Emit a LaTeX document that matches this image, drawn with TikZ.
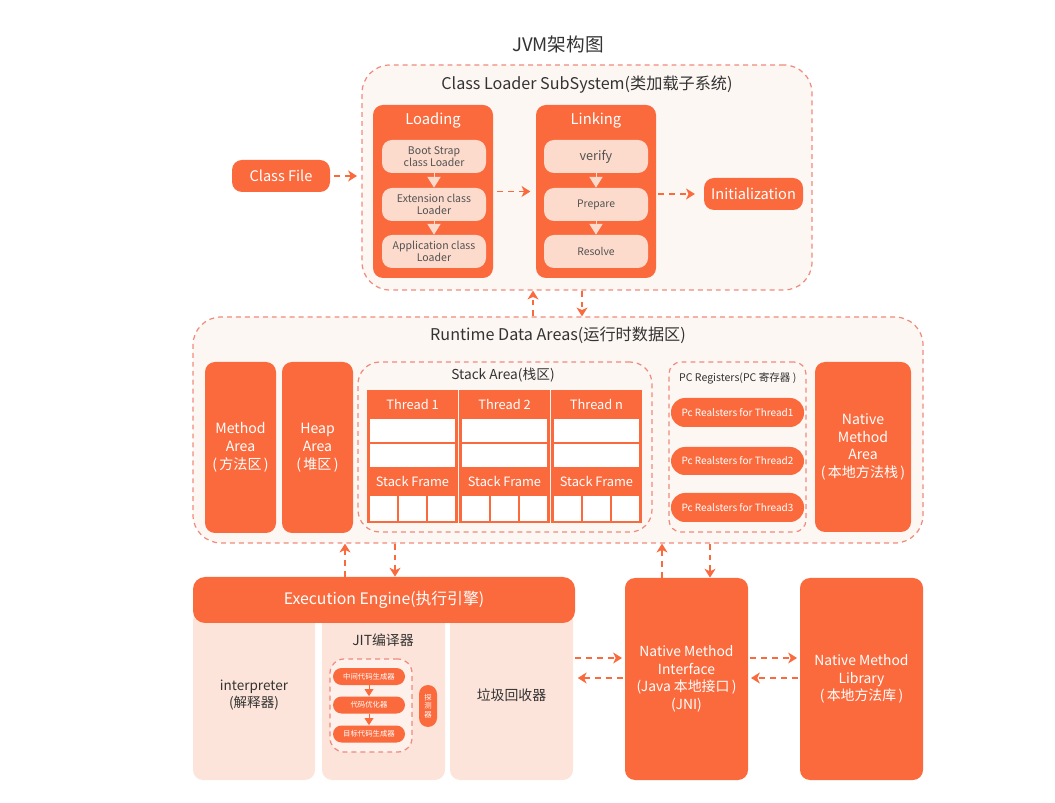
\documentclass[tikz,border=0pt]{standalone}
\usepackage{fontspec}
\setmainfont{Noto Sans CJK SC}
\usetikzlibrary{arrows.meta}

\definecolor{jvmorange}{HTML}{FB6A3D}
\definecolor{jvmpeach}{HTML}{FDDBCC}
\definecolor{jvmpanel}{HTML}{FDE4DA}
\definecolor{jvmbg}{HTML}{FDF7F4}
\definecolor{jvmdash}{HTML}{EF8A7C}
\definecolor{jvmtext}{HTML}{333333}

\newdimen\pxu \pxu=0.02cm
\newcommand{\jfs}[2]{\fontsize{#1pt}{#2pt}\selectfont}

\begin{document}
\begin{tikzpicture}[x=0.02cm,y=-0.02cm,
    area/.style={draw=jvmdash,line width=0.7pt,dash pattern=on 2.8pt off 2.3pt,fill=jvmbg,rounded corners=28\pxu,inner sep=0pt},
    block/.style={fill=jvmorange,rounded corners=10\pxu,text=white,inner sep=0pt,align=center},
    sub/.style={fill=jvmpeach,rounded corners=10\pxu,text=jvmtext!85,inner sep=0pt,align=center},
    pill/.style={fill=jvmorange,rounded corners=14\pxu,text=white,inner sep=0pt,align=center},
    panel/.style={fill=jvmpanel,rounded corners=10\pxu,text=jvmtext,inner sep=0pt,align=center},
    cell/.style={draw=jvmorange,line width=1.4pt,fill=white,inner sep=0pt},
    cellhead/.style={draw=jvmorange,line width=1.4pt,fill=jvmorange,text=white,inner sep=0pt,font=\jfs{7.3}{8}},
    head/.style={text=jvmtext,font=\jfs{9.2}{10}},
    flow/.style={jvmorange,line width=0.85pt,dash pattern=on 3.4pt off 2.8pt,-{Stealth[length=5pt,width=6.2pt,inset=1.4pt]}},
    chev/.style={jvmpeach,line width=0.5pt,-{Triangle[length=6.2pt,width=7.6pt]}},
    jitchev/.style={jvmorange,line width=0.5pt,-{Triangle[length=4pt,width=5pt]}}]

  \useasboundingbox (0,0) rectangle (1055,803);

  \path (558,44) node[text=jvmtext,font=\jfs{10.6}{12}](title){JVM架构图};

  % class loader subsystem
  \path (587,177.5) node[area,minimum width=450\pxu,minimum height=225\pxu](cls){};
  \path (587,85) node[head](cls_title){Class Loader SubSystem(类加载子系统)};
  \path (281,176) node[block,minimum width=98\pxu,minimum height=32\pxu,font=\jfs{8.3}{9}](classfile){Class File};

  \path (433,191.5) node[block,minimum width=120\pxu,minimum height=173\pxu](loading){};
  \path (433,120) node[text=white,font=\jfs{8.4}{9}](loading_title){Loading};
  \path (434,156.5) node[sub,minimum width=104\pxu,minimum height=33\pxu,font=\jfs{6}{7.2}](boot){Boot Strap\\class Loader};
  \path (434,204.5) node[sub,minimum width=104\pxu,minimum height=33\pxu,font=\jfs{6}{7.2}](ext){Extension class\\Loader};
  \path (434,251.5) node[sub,minimum width=104\pxu,minimum height=33\pxu,font=\jfs{6}{7.2}](app){Application class\\Loader};

  \path (596,191.5) node[block,minimum width=120\pxu,minimum height=173\pxu](linking){};
  \path (596,120) node[text=white,font=\jfs{8.4}{9}](linking_title){Linking};
  \path (596,156.5) node[sub,minimum width=104\pxu,minimum height=33\pxu,font=\jfs{7.2}{8}](verify){verify};
  \path (596,204.5) node[sub,minimum width=104\pxu,minimum height=33\pxu,font=\jfs{5.9}{7}](prepare){Prepare};
  \path (596,251.5) node[sub,minimum width=104\pxu,minimum height=33\pxu,font=\jfs{5.9}{7}](resolve){Resolve};

  \path (753.5,194) node[block,minimum width=99\pxu,minimum height=32\pxu,font=\jfs{8.3}{9}](init){Initialization};

  \draw[chev] (boot) -- (ext);
  \draw[chev] (ext) -- (app);
  \draw[chev] (verify) -- (prepare);
  \draw[chev] (prepare) -- (resolve);

  \draw[flow,shorten <=2pt,shorten >=2.5pt] (classfile) -- (classfile -| cls.west);
  \draw[flow,shorten <=2pt,shorten >=3pt] (loading) -- (linking);
  \draw[flow,shorten <=1pt,shorten >=5pt] (linking.east |- init) -- (init);

  % runtime data areas
  \path (558,430) node[area,minimum width=730\pxu,minimum height=226\pxu](rda){};
  \path (558,335) node[head](rda_title){Runtime Data Areas(运行时数据区)};

  \path (240.5,447.5) node[block,minimum width=71\pxu,minimum height=171\pxu,font=\jfs{8}{10.2}](method){Method\\Area\\(\,方法区\,)};
  \path (317.5,447.5) node[block,minimum width=71\pxu,minimum height=171\pxu,font=\jfs{8}{10.2}](heap){Heap\\Area\\(\,堆区\,)};

  \path (505,447) node[area,rounded corners=22\pxu,minimum width=294\pxu,minimum height=170\pxu](stack){};
  \path (503,375) node[text=jvmtext,font=\jfs{7.8}{9}](stack_title){Stack Area(栈区)};
  \foreach \cx/\lab [count=\i] in {412.5/Thread 1,504.5/Thread 2,596.5/Thread n}{
    \path (\cx,404.5) node[cellhead,minimum width=88\pxu,minimum height=27\pxu](thread\i){\lab};
    \path (\cx,430.5) node[cell,minimum width=88\pxu,minimum height=25\pxu](slota\i){};
    \path (\cx,455.5) node[cell,minimum width=88\pxu,minimum height=25\pxu](slotb\i){};
    \path (\cx,481.5) node[cellhead,minimum width=88\pxu,minimum height=27\pxu](frame\i){Stack Frame};
    \foreach \k/\kn in {-1/a,0/b,1/c}
      \path (\cx+\k*29.33,508.5) node[cell,minimum width=29.33\pxu,minimum height=27\pxu](var\i\kn){};
  }

  \path (737.5,447) node[area,rounded corners=12\pxu,minimum width=137\pxu,minimum height=170\pxu](pcreg){};
  \path (673,378) node[anchor=west,text=jvmtext,font=\jfs{6}{7}](pc_title){PC Registers(PC 寄存器 )};
  \path (737.5,412.5) node[pill,minimum width=133\pxu,minimum height=29\pxu,font=\jfs{5.7}{6}](pc1){Pc Realsters for Thread1};
  \path (737.5,461) node[pill,minimum width=133\pxu,minimum height=28\pxu,font=\jfs{5.7}{6}](pc2){Pc Realsters for Thread2};
  \path (737.5,507.5) node[pill,minimum width=133\pxu,minimum height=29\pxu,font=\jfs{5.7}{6}](pc3){Pc Realsters for Thread3};

  \path (863,447) node[block,minimum width=96\pxu,minimum height=170\pxu,font=\jfs{8}{9.9}](nma){Native\\Method\\Area\\(\,本地方法栈\,)};

  % execution engine
  \path (254,695) node[panel,minimum width=122\pxu,minimum height=170\pxu,font=\jfs{7.7}{9.5}](interp){interpreter\\(解释器)};
  \path (383.5,695) node[panel,minimum width=123\pxu,minimum height=170\pxu](jit){};
  \path (511.5,695) node[panel,minimum width=123\pxu,minimum height=170\pxu,font=\jfs{7.9}{9}](gc){垃圾回收器};
  \path (384,600) node[block,rounded corners=12\pxu,minimum width=382\pxu,minimum height=46\pxu,font=\jfs{9}{10}](engine){Execution Engine(执行引擎)};

  \path (383,640) node[text=jvmtext,font=\jfs{7.9}{9}](jit_title){JIT编译器};
  \path (371,705.5) node[area,rounded corners=14\pxu,fill=jvmpanel!55!white,minimum width=82\pxu,minimum height=93\pxu](jitbox){};
  \path (369,676.5) node[pill,rounded corners=8.5\pxu,minimum width=72\pxu,minimum height=17\pxu,font=\jfs{4.2}{5}](midcode){中间代码生成器};
  \path (369,705) node[pill,rounded corners=8.5\pxu,minimum width=72\pxu,minimum height=17\pxu,font=\jfs{4.2}{5}](optimizer){代码优化器};
  \path (369,734) node[pill,rounded corners=8.5\pxu,minimum width=72\pxu,minimum height=17\pxu,font=\jfs{4.2}{5}](target){目标代码生成器};
  \path (428,706) node[pill,rounded corners=9\pxu,minimum width=18\pxu,minimum height=42\pxu,font=\jfs{4.2}{5}](probe){探\\测\\器};
  \draw[jitchev] (midcode) -- (optimizer);
  \draw[jitchev] (optimizer) -- (target);

  % native method interface / library
  \path (686.5,679) node[block,minimum width=123\pxu,minimum height=202\pxu,font=\jfs{7.9}{10}](nmi){Native Method\\Interface\\(Java 本地接口\,)\\(JNI)};
  \path (861.5,679) node[block,minimum width=123\pxu,minimum height=202\pxu,font=\jfs{7.9}{10}](nml){Native Method\\Library\\(\,本地方法库\,)};

  % connectors between the areas
  \coordinate (colA) at (533,0);
  \coordinate (colB) at (582,0);
  \coordinate (colC) at (345,0);
  \coordinate (colD) at (395,0);
  \coordinate (colE) at (662,0);
  \coordinate (colF) at (710,0);
  \coordinate (rowA) at (0,658);
  \coordinate (rowB) at (0,678);
  \draw[flow] (rda.north -| colA) -- (cls.south -| colA);
  \draw[flow] (cls.south -| colB) -- (rda.north -| colB);
  \draw[flow] (engine.north -| colC) -- (rda.south -| colC);
  \draw[flow] (rda.south -| colD) -- (engine.north -| colD);
  \draw[flow] (nmi.north -| colE) -- (rda.south -| colE);
  \draw[flow] (rda.south -| colF) -- (nmi.north -| colF);
  \draw[flow,shorten <=1pt,shorten >=1.5pt] (gc.east |- rowA) -- (nmi.west |- rowA);
  \draw[flow,shorten <=1pt,shorten >=2.5pt] (nmi.west |- rowB) -- (gc.east |- rowB);
  \draw[flow,shorten <=1pt,shorten >=1.5pt] (nmi.east |- rowA) -- (nml.west |- rowA);
  \draw[flow,shorten <=1pt,shorten >=1.5pt] (nml.west |- rowB) -- (nmi.east |- rowB);

\end{tikzpicture}
\end{document}
